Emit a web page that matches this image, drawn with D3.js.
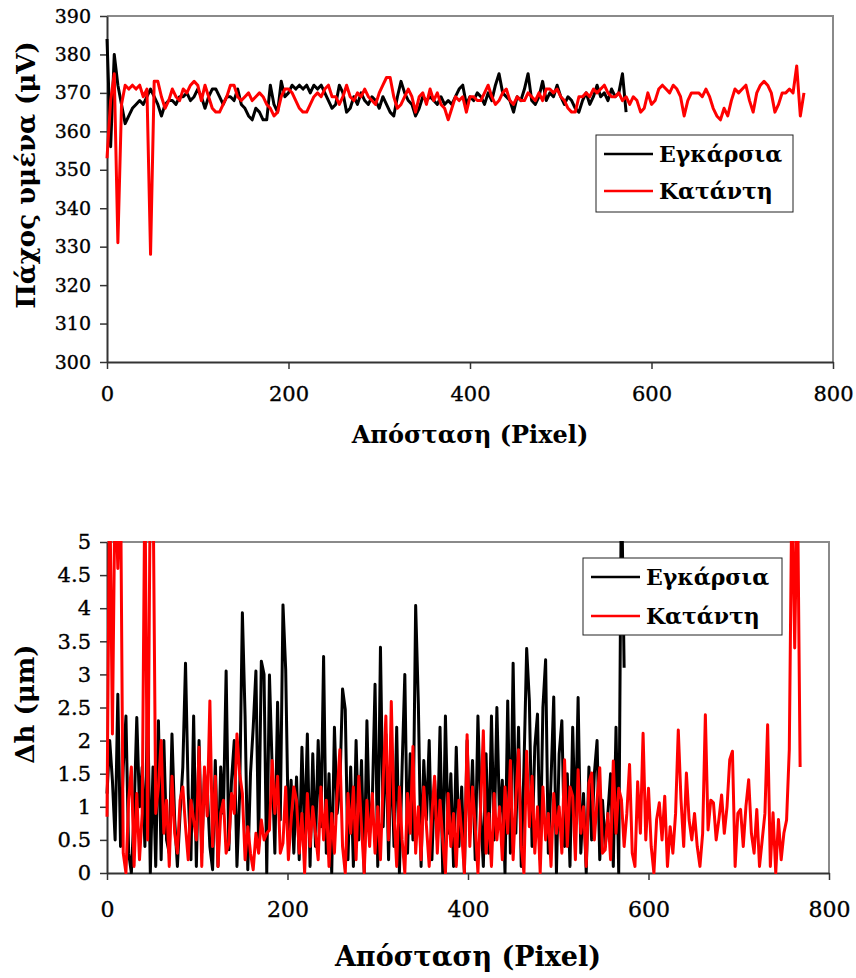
<!DOCTYPE html>
<html>
<head>
<meta charset="utf-8">
<script src="https://cdn.jsdelivr.net/npm/d3@7"></script>
<style>
  html, body { margin: 0; padding: 0; background: #fff; }
  svg { display: block; }
  text { font-family: "DejaVu Serif", "Liberation Serif", serif; fill: #000; }
</style>
</head>
<body>
<svg id="chart" width="856" height="978"></svg>
<script>
// ---------------- DATA ----------------
const seriesNames = ["Εγκάρσια", "Κατάντη"];
const seriesColors = ["#000000", "#ff0000"];

// Top chart: film thickness (μV), one value every 4 pixels of distance
const topStep = 4;
const topBlack = [
  384,356,380,372,367,362,364,366,367,368,
  367,369,371,369,367,364,367,368,368,367,
  369,369,370,368,369,371,369,366,369,371,
  371,369,367,369,369,368,371,367,366,364,
  363,366,365,363,363,372,367,365,373,369,
  370,372,371,372,371,372,370,372,371,372,
  370,368,366,367,372,370,365,366,369,367,
  370,368,367,369,368,366,369,367,365,364,
  369,373,370,368,367,364,366,369,368,369,
  368,367,369,367,368,367,369,371,372,367,
  369,368,370,369,367,370,368,372,375,370,
  369,368,365,369,368,371,375,368,367,369,
  373,368,370,369,372,369,367,369,368,366,
  365,368,370,367,369,372,369,370,368,371,
  369,370,375,365
];
const topRed = [
  353,368,375,331,367,372,371,372,371,372,
  369,371,328,373,373,369,366,368,371,369,
  368,371,370,372,373,372,368,372,369,366,
  365,365,367,369,372,372,369,368,369,370,
  368,369,370,369,367,366,364,365,369,371,
  371,370,368,366,365,365,367,369,370,369,
  371,372,369,369,367,369,372,369,368,370,
  369,371,369,368,367,370,372,374,374,369,
  366,367,369,371,369,365,369,370,367,371,
  368,370,367,366,363,366,369,368,369,365,
  369,369,368,368,370,372,369,367,368,370,
  371,368,367,369,368,368,370,369,368,370,
  368,371,371,370,371,369,368,366,365,365,
  369,369,370,369,371,370,371,372,370,369,
  369,370,368,369,367,369,368,365,366,370,
  367,368,371,372,371,370,372,371,369,364,
  368,370,370,370,369,371,369,366,364,363,
  366,364,368,371,370,371,372,368,365,370,
  372,373,372,370,365,367,370,370,371,370,
  377,364,370
];
const topXTicks = [0, 200, 400, 600, 800];
const topYTicks = [300, 310, 320, 330, 340, 350, 360, 370, 380, 390];

// Bottom chart: Δh (μm), one value every 3 pixels of distance
const bottomStep = 3;
const bottomBlack = [
  1.2,2.0,1.4,0.5,2.7,0.4,1.6,2.37,0.3,0.0,
  0.9,2.35,1.0,1.6,0.4,2.6,0.0,1.6,0.1,2.3,
  0.2,2.0,0.5,0.3,2.1,0.8,0.1,0.9,1.6,3.17,
  1.2,0.2,2.37,0.1,2.0,0.3,1.5,1.3,0.4,0.05,
  1.7,0.1,1.6,0.9,3.05,0.35,1.4,2.0,0.1,1.2,
  3.93,2.37,0.05,1.5,2.2,3.05,0.4,3.2,3.0,0.0,
  2.99,1.6,0.3,2.58,0.8,4.05,3.07,0.6,1.4,0.3,
  1.45,0.2,1.9,0.5,2.1,0.1,1.8,0.4,2.0,0.7,
  3.27,0.3,1.5,0.0,2.2,0.9,1.3,2.78,2.47,0.2,
  1.6,0.1,2.0,0.5,1.7,0.0,2.3,0.6,1.1,2.85,
  0.1,3.41,0.7,2.1,0.2,1.9,0.4,2.2,0.0,1.6,
  3.0,0.3,1.8,0.5,4.04,2.55,0.1,1.7,0.8,2.0,
  0.2,1.4,0.5,2.2,0.0,2.37,0.6,1.5,0.1,1.9,
  0.4,1.3,0.0,2.0,0.6,1.7,0.2,2.37,0.9,0.1,
  1.8,0.3,2.37,0.5,2.5,0.8,1.4,0.0,2.6,0.3,
  3.17,0.6,2.2,0.1,1.6,3.39,2.6,0.4,1.9,2.4,
  0.2,2.5,3.22,0.3,1.4,2.66,0.0,1.8,2.3,0.4,
  1.5,0.1,2.2,0.6,2.65,0.3,1.2,0.0,1.6,0.5,
  1.5,2.0,0.2,1.1,0.4,0.9,1.5,0.1,2.2,0.0,
  6,3.1
];
const bottomRed = [
  0.85,6,2.1,6,4.6,6,0.3,0.0,1.1,1.6,
  0.1,1.2,0.2,0.9,6,0.5,6,6,0.9,1.3,
  2.0,0.6,1.1,0.1,1.46,0.6,0.3,1.1,1.3,0.7,
  0.2,1.1,0.8,0.5,1.9,0.1,1.6,0.86,2.6,0.4,
  1.46,0.1,0.9,1.1,0.3,0.45,1.2,0.9,2.1,1.5,
  1.2,0.2,0.7,0.3,0.05,0.6,0.3,0.8,0.5,0.6,
  0.65,1.7,0.9,1.46,0.3,0.45,1.3,0.2,0.8,1.3,
  1.1,0.3,0.9,0.0,1.2,0.4,1.0,0.6,0.2,1.3,
  0.5,1.1,0.1,0.9,0.3,1.2,1.86,0.4,0.0,1.2,
  0.6,1.3,0.2,1.46,0.7,0.0,1.1,0.4,1.2,0.3,
  1.0,0.2,1.4,2.37,0.5,2.59,0.9,0.1,1.3,0.5,
  0.0,1.2,0.6,1.91,0.3,1.0,0.2,1.3,0.7,0.1,
  0.9,1.46,0.3,1.1,0.5,0.0,1.2,0.4,0.9,0.1,
  1.1,0.6,0.0,2.09,0.4,1.3,0.7,0.0,1.0,2.15,
  0.3,0.9,0.1,1.2,0.5,1.0,0.2,1.3,0.6,1.7,
  0.2,1.1,1.86,0.4,0.0,1.84,0.7,1.46,0.3,1.0,
  0.0,1.3,0.5,0.9,0.1,1.2,0.6,1.0,0.3,1.71,
  0.4,1.3,1.16,0.2,1.56,0.6,1.0,0.1,1.36,1.51,
  0.5,1.1,1.59,0.3,0.35,0.9,0.2,1.69,0.6,1.28,
  1.11,0.4,0.9,1.64,0.3,0.1,1.38,0.6,2.11,0.5,
  1.28,0.4,0.0,0.81,1.06,0.5,1.16,0.1,0.7,0.3,
  0.9,2.16,1.11,0.4,1.51,0.8,0.5,0.9,0.4,0.1,
  0.6,2.39,0.65,1.1,1.06,0.5,0.81,1.18,0.6,1.0,
  1.71,1.84,0.1,0.9,0.96,0.4,1.01,1.41,0.6,0.3,
  0.96,0.1,0.5,0.9,2.24,0.1,0.91,0.0,0.81,0.2,
  0.6,0.8,1.86,6,3.4,6,1.6
];
const bottomXTicks = [0, 200, 400, 600, 800];
const bottomYTicks = [0, 0.5, 1, 1.5, 2, 2.5, 3, 3.5, 4, 4.5, 5];

const xTitle = "Απόσταση (Pixel)";
const topYTitle = "Πάχος υμένα (μV)";
const bottomYTitle = "Δh (μm)";

// ---------------- DRAWING ----------------
const svg = d3.select("#chart");

function drawPanel(cfg) {
  const g = svg.append("g");
  const x = d3.scaleLinear().domain([0, 800]).range([cfg.left, cfg.right]);
  const y = d3.scaleLinear().domain(cfg.yDomain).range([cfg.bottom, cfg.top]);

  // frame: top and right in gray
  g.append("path")
    .attr("d", `M${cfg.left},${cfg.top}H${cfg.right}V${cfg.bottom}`)
    .attr("fill", "none").attr("stroke", "#8a8a8a").attr("stroke-width", 2);

  // axes
  const xAxis = d3.axisBottom(x).tickValues(cfg.xTicks).tickSize(7).tickSizeOuter(0).tickPadding(cfg.xTickPad);
  const xg = g.append("g").attr("transform", `translate(0,${cfg.bottom})`).call(xAxis);
  xg.select(".domain").attr("stroke", "#333").attr("stroke-width", 2);
  xg.selectAll(".tick line").attr("stroke", "#333").attr("stroke-width", 1.5);
  xg.selectAll(".tick text").attr("font-size", cfg.xTickFont).attr("fill", "#000")
    .attr("stroke", "#000").attr("stroke-width", 0.35)
    .attr("font-family", "DejaVu Serif");

  const yAxis = d3.axisLeft(y).tickValues(cfg.yTicks).tickSize(7).tickSizeOuter(0).tickPadding(9)
    .tickFormat(d3.format("~g"));
  const yg = g.append("g").attr("transform", `translate(${cfg.left},0)`).call(yAxis);
  yg.select(".domain").attr("stroke", "#333").attr("stroke-width", 2);
  yg.selectAll(".tick line").attr("stroke", "#333").attr("stroke-width", 1.5);
  yg.selectAll(".tick text").attr("font-size", cfg.yTickFont).attr("fill", "#000")
    .attr("stroke", "#000").attr("stroke-width", 0.35)
    .attr("font-family", "DejaVu Serif");

  // clip
  const clipId = "clip" + cfg.id;
  svg.append("clipPath").attr("id", clipId)
    .append("rect").attr("x", cfg.left - 2).attr("y", cfg.top - 1)
    .attr("width", cfg.right - cfg.left + 2).attr("height", cfg.bottom - cfg.top + 2);

  const lines = g.append("g").attr("clip-path", `url(#${clipId})`);
  cfg.series.forEach((s, i) => {
    const line = d3.line()
      .x((d, k) => x(k * cfg.step))
      .y(d => y(d));
    lines.append("path")
      .datum(s)
      .attr("d", line)
      .attr("fill", "none")
      .attr("stroke", seriesColors[i])
      .attr("stroke-width", cfg.lineWidth)
      .attr("stroke-linejoin", "round");
  });

  // titles
  g.append("text")
    .attr("x", (cfg.left + cfg.right) / 2).attr("y", cfg.xTitleY)
    .attr("text-anchor", "middle").attr("font-weight", "bold")
    .attr("font-size", cfg.xTitleFont).text(xTitle);
  g.append("text")
    .attr("transform", `translate(${cfg.yTitleX},${cfg.yTitleY}) rotate(-90)`)
    .attr("text-anchor", "middle").attr("font-weight", "bold")
    .attr("font-size", cfg.yTitleFont).text(cfg.yTitle);

  // legend
  const L = cfg.legend;
  const lg = g.append("g");
  lg.append("rect").attr("x", L.x).attr("y", L.y).attr("width", L.w).attr("height", L.h)
    .attr("fill", "#fff").attr("stroke", "#222").attr("stroke-width", 1);
  seriesNames.forEach((name, i) => {
    const cy = L.y + L.firstRow + i * L.rowGap;
    lg.append("line").attr("x1", L.x + 8).attr("x2", L.x + 57)
      .attr("y1", cy).attr("y2", cy)
      .attr("stroke", seriesColors[i]).attr("stroke-width", 2.5);
    lg.append("text").attr("x", L.x + 63).attr("y", cy).attr("dy", "0.36em")
      .attr("font-weight", "bold").attr("font-size", L.font).text(name);
  });
}

drawPanel({
  id: "top", left: 107, right: 833, top: 16, bottom: 362,
  yDomain: [300, 390], step: topStep, series: [topBlack, topRed],
  xTicks: topXTicks, yTicks: topYTicks, lineWidth: 3,
  xTickFont: 21, yTickFont: 19, xTickPad: 17,
  xTitleY: 443, xTitleFont: 24,
  yTitle: topYTitle, yTitleX: 35, yTitleY: 175, yTitleFont: 26,
  legend: { x: 596, y: 135, w: 197, h: 77, firstRow: 19, rowGap: 37, font: 22 }
});

drawPanel({
  id: "bottom", left: 107, right: 829, top: 542, bottom: 873,
  yDomain: [0, 5], step: bottomStep, series: [bottomBlack, bottomRed],
  xTicks: bottomXTicks, yTicks: bottomYTicks, lineWidth: 3,
  xTickFont: 22, yTickFont: 21, xTickPad: 21,
  xTitleY: 966, xTitleFont: 27,
  yTitle: bottomYTitle, yTitleX: 34, yTitleY: 704, yTitleFont: 26,
  legend: { x: 583, y: 558, w: 199, h: 77, firstRow: 19, rowGap: 39, font: 22 }
});
</script>
</body>
</html>
